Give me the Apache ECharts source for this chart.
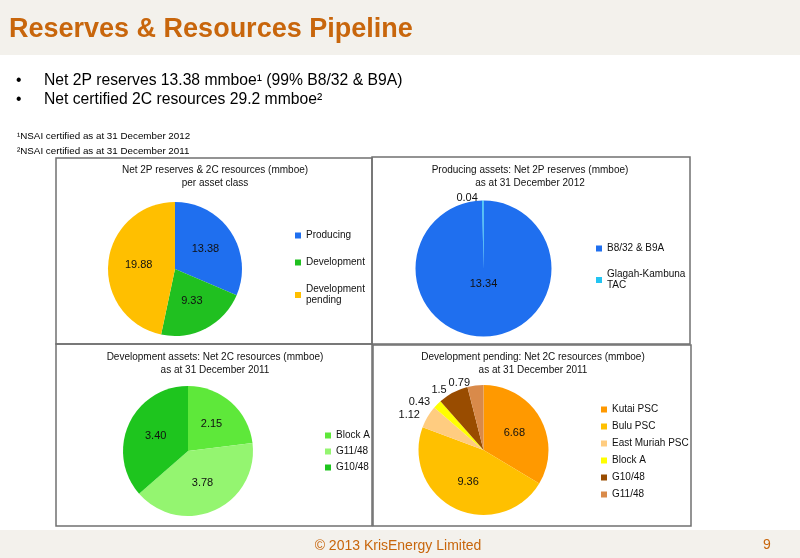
<!DOCTYPE html>
<html><head><meta charset="utf-8">
<script src="https://cdn.jsdelivr.net/npm/echarts@6/dist/echarts.min.js"></script>
<style>html,body{margin:0;padding:0;background:#fff}#c{width:800px;height:558px}</style>
</head><body><div id="c"></div>
<script>
// ---- data ----
const classNames = ['Producing', 'Development', 'Development pending'];
const classValues = [13.38, 9.33, 19.88];
const producingNames = ['B8/32 & B9A', 'Glagah-Kambuna TAC'];
const producingValues = [13.34, 0.04];
const devNames = ['Block A', 'G11/48', 'G10/48'];
const devValues = [2.15, 3.78, 3.40];
const pendingNames = ['Kutai PSC', 'Bulu PSC', 'East Muriah PSC', 'Block A', 'G10/48', 'G11/48'];
const pendingValues = [6.68, 9.36, 1.12, 0.43, 1.5, 0.79];

// ---- styles ----
const classColors = ['#1f6fef', '#20c020', '#ffbf00'];
const producingColors = ['#1f6fef', '#22c4f2'];
const devColors = ['#5ee83a', '#94f570', '#1ec51e'];
const pendingColors = ['#ff9900', '#ffc000', '#ffcc80', '#ffff00', '#994c00', '#d98a4a'];
const FF = '"Liberation Sans", Arial, sans-serif';
const ORANGE = '#c8660c';

const chart = echarts.init(document.getElementById('c'));

function legendData(names, colors) {
  return names.map((n, i) => ({ name: n, itemStyle: { color: colors[i] } }));
}
function wrapName(n) {
  if (n === 'Development pending') return 'Development\npending';
  if (n === 'Glagah-Kambuna TAC') return 'Glagah-Kambuna\nTAC';
  return n;
}
function legend(names, colors, left, top, gap) {
  return {
    data: legendData(names, colors), left: left, top: top, orient: 'vertical',
    icon: 'rect', itemWidth: 6, itemHeight: 6, itemGap: gap, selectedMode: false,
    formatter: wrapName, padding: 0,
    textStyle: { fontSize: 10, fontFamily: FF, color: '#111', lineHeight: 11 }
  };
}
function pieData(names, values, colors) {
  return names.map((n, i) => ({ name: n, value: values[i], itemStyle: { color: colors[i] } }));
}
const baseLabel = { position: 'inside', fontSize: 11, fontFamily: FF, color: '#111', formatter: '{c}' };
const baseSeries = {
  type: 'pie', startAngle: 90, clockwise: true, avoidLabelOverlap: false, silent: true,
  itemStyle: { borderWidth: 0 },
  emphasis: { disabled: true },
  labelLine: { show: false, length: 3, length2: 0 },
  label: baseLabel
};

// Series data
const s1 = pieData(classNames, classValues, classColors);
const s2 = pieData(producingNames, producingValues, producingColors);
s2[0].label = { position: 'center', formatter: '\n{c}', lineHeight: 30 };
s2[1].label = { position: 'outside' };
const s3 = pieData(devNames, devValues, devColors);
const s4 = pieData(pendingNames, pendingValues, pendingColors)
  .map((d, i) => Object.assign(d, { label: { position: i < 2 ? 'inside' : 'outside' } }));

function boxTitle(x, y, text) {
  return { type: 'text', x: x, y: y, style: { text: text, align: 'center', verticalAlign: 'top',
    font: '10px ' + FF, fill: '#111', lineHeight: 13 } };
}
function box(x, y, w, h) {
  return { type: 'rect', shape: { x: x, y: y, width: w, height: h },
    style: { fill: 'none', stroke: '#707070', lineWidth: 1.5 }, z: 10 };
}

chart.setOption({
  animation: false,
  backgroundColor: '#fff',
  graphic: [
    { type: 'rect', shape: { x: 0, y: 0, width: 800, height: 55 }, style: { fill: '#f3f1ec' } },
    { type: 'text', x: 9, y: 30, style: { text: 'Reserves & Resources Pipeline', font: 'bold 27px ' + FF, fill: ORANGE, verticalAlign: 'middle' } },
    { type: 'text', x: 16, y: 81, style: { text: '•', font: '15.7px ' + FF, fill: '#000', verticalAlign: 'middle' } },
    { type: 'text', x: 44, y: 81, style: { text: 'Net 2P reserves 13.38 mmboe¹ (99% B8/32 & B9A)', font: '15.7px ' + FF, fill: '#000', verticalAlign: 'middle' } },
    { type: 'text', x: 16, y: 100, style: { text: '•', font: '15.7px ' + FF, fill: '#000', verticalAlign: 'middle' } },
    { type: 'text', x: 44, y: 100, style: { text: 'Net certified 2C resources 29.2 mmboe²', font: '15.7px ' + FF, fill: '#000', verticalAlign: 'middle' } },
    { type: 'text', x: 17, y: 136, style: { text: '¹NSAI certified as at 31 December 2012', font: '9.8px ' + FF, fill: '#000', verticalAlign: 'middle' } },
    { type: 'text', x: 17, y: 151, style: { text: '²NSAI certified as at 31 December 2011', font: '9.8px ' + FF, fill: '#000', verticalAlign: 'middle' } },
    box(56, 158, 316, 186),
    box(372, 157, 318, 187),
    box(56, 344, 316, 182),
    box(373, 345, 318, 181),
    boxTitle(215, 164, 'Net 2P reserves & 2C resources (mmboe)\nper asset class'),
    boxTitle(530, 164, 'Producing assets: Net 2P reserves (mmboe)\nas at 31 December 2012'),
    boxTitle(215, 351, 'Development assets: Net 2C resources (mmboe)\nas at 31 December 2011'),
    boxTitle(533, 351, 'Development pending: Net 2C resources (mmboe)\nas at 31 December 2011'),
    { type: 'rect', shape: { x: 0, y: 530, width: 800, height: 28 }, style: { fill: '#f3f1ec' } },
    { type: 'text', x: 398, y: 546, style: { text: '© 2013 KrisEnergy Limited', font: '14px ' + FF, fill: ORANGE, align: 'center', verticalAlign: 'middle' } },
    { type: 'text', x: 767, y: 545, style: { text: '9', font: '14px ' + FF, fill: ORANGE, align: 'center', verticalAlign: 'middle' } }
  ],
  legend: [
    legend(classNames, classColors, 295, 230, 16),
    legend(producingNames, producingColors, 596, 243, 15),
    legend(devNames, devColors, 325, 430, 5),
    legend(pendingNames, pendingColors, 601, 404, 6)
  ],
  series: [
    Object.assign({}, baseSeries, { name: 'class', center: [175, 269], radius: 67, data: s1,
      label: Object.assign({}, baseLabel, { formatter: p => p.value.toFixed(2) }) }),
    Object.assign({}, baseSeries, { name: 'producing', center: [483.5, 268.5], radius: 68, data: s2 }),
    Object.assign({}, baseSeries, { name: 'dev', center: [188, 451], radius: 65, data: s3,
      label: Object.assign({}, baseLabel, { formatter: p => p.value.toFixed(2) }) }),
    Object.assign({}, baseSeries, { name: 'pending', center: [483.5, 450], radius: 65, data: s4 })
  ]
});
</script>
</body></html>
